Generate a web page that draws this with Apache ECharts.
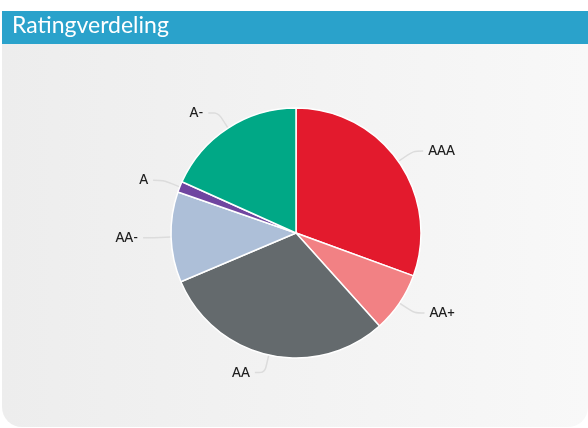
<!DOCTYPE html>
<html>
<head>
<meta charset="utf-8">
<script src="https://cdn.jsdelivr.net/npm/echarts@6/dist/echarts.min.js"></script>
<style>
  html, body { margin: 0; padding: 0; background: #fff; }
  #chart { width: 588px; height: 428px; }
</style>
</head>
<body>
<div id="chart"></div>
<script>
const ratings = ['AAA', 'AA+', 'AA', 'AA-', 'A', 'A-']
const shares = [30.6, 7.8, 30.3, 11.7, 1.4, 18.3]
const colors = ['#e31a2d', '#f28184', '#646a6d', '#adbfd8', '#6f45a0', '#00a886']

const chart = echarts.init(document.getElementById('chart'))
chart.setOption({
  animation: false,
  graphic: [
    {
      type: 'rect',
      silent: true,
      z: -10,
      shape: { x: 2, y: 44, width: 586, height: 383, r: [0, 0, 20, 20] },
      style: {
        fill: new echarts.graphic.LinearGradient(0, 0, 1, 0, [
          { offset: 0, color: '#ededed' },
          { offset: 1, color: '#f8f8f8' }
        ])
      }
    },
    {
      type: 'rect',
      silent: true,
      z: -9,
      shape: { x: 2, y: 11, width: 586, height: 33 },
      style: { fill: '#2aa2cb' }
    },
    {
      type: 'text',
      silent: true,
      left: 12,
      top: 14,
      style: {
        text: 'Ratingverdeling',
        fill: '#fff',
        font: '23px Lato, sans-serif'
      }
    }
  ],
  series: [
    {
      type: 'pie',
      center: [296, 233],
      radius: 125,
      startAngle: 90,
      data: ratings.map((name, i) => ({
        name,
        value: shares[i],
        itemStyle: { color: colors[i] }
      })),
      itemStyle: { borderColor: '#fff', borderWidth: 1.5 },
      label: {
        color: '#1e1e1e',
        fontSize: 13,
        fontWeight: 600,
        fontFamily: 'Lato, sans-serif',
        padding: [0, 0, 6, 0]
      },
      labelLine: {
        smooth: 0.3,
        length: 18,
        length2: 10,
        lineStyle: { color: '#dcdcdc', width: 1.5 }
      }
    }
  ]
})
</script>
</body>
</html>
